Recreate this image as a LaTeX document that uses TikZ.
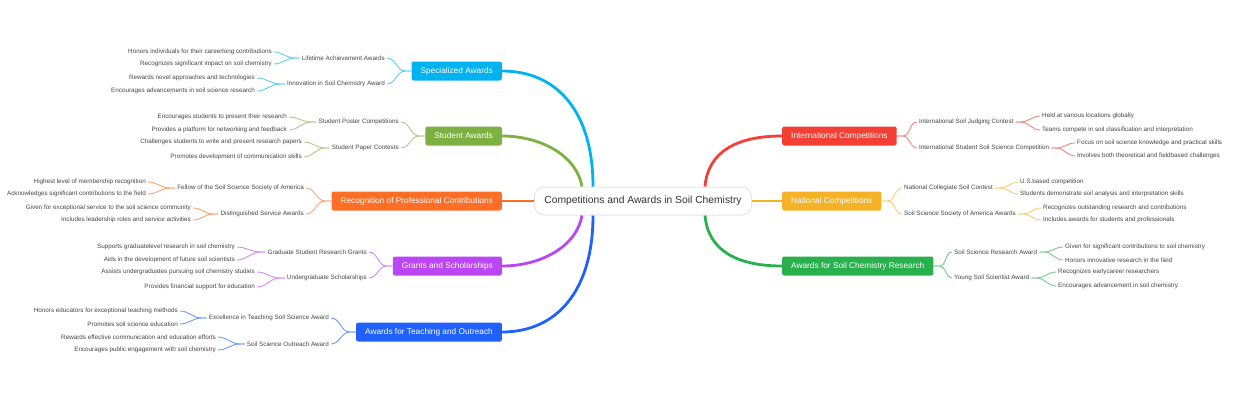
\documentclass[tikz,border=0pt]{standalone}
\usepackage{fontspec}
\setmainfont{Liberation Sans}
\usepackage{tikz}
\usetikzlibrary{calc}
\definecolor{cspec}{RGB}{0,178,240}
\definecolor{cstud}{RGB}{124,177,66}
\definecolor{cprof}{RGB}{255,110,38}
\definecolor{cgrant}{RGB}{186,70,245}
\definecolor{cteach}{RGB}{32,96,255}
\definecolor{cintl}{RGB}{244,64,52}
\definecolor{cnatl}{RGB}{245,178,38}
\definecolor{cresr}{RGB}{40,176,76}
\definecolor{txtgray}{RGB}{68,68,68}
\definecolor{roottxt}{RGB}{51,51,51}
\newcommand{\rootfont}{\fontsize{10.3}{12}\selectfont}
\newcommand{\branchfont}{\fontsize{8.3}{10}\selectfont}
\newcommand{\leaffont}{\fontsize{6.3}{7.5}\selectfont}
\tikzstyle{rootnode}=[rectangle,rounded corners=10pt,draw=black!10,line width=1pt,fill=white,text=roottxt,font=\rootfont,minimum height=28pt,inner xsep=10pt]
\tikzstyle{branchnode}=[rectangle,rounded corners=2pt,text=white,font=\branchfont,minimum height=19pt,inner xsep=9pt]
\tikzstyle{subnode}=[text=txtgray,font=\leaffont,inner sep=2pt]
\tikzstyle{leafnode}=[text=txtgray,font=\leaffont,inner sep=2pt]
\tikzstyle{mainlink}=[line width=2.8pt]
\tikzstyle{sublink}=[line width=0.9pt]

\begin{document}
\begin{tikzpicture}[x=1pt,y=-1pt]

  \useasboundingbox (0,0) rectangle (1240,400);

  % ROOT
  \node[rootnode] (root) at (643,201) {Competitions and Awards in Soil Chemistry};

  % BRANCHES
  \node[branchnode,fill=cspec,anchor=east] (spec) at (502,71) {Specialized Awards};
  \node[branchnode,fill=cstud,anchor=east] (stud) at (502,136) {Student Awards};
  \node[branchnode,fill=cprof,anchor=east] (prof) at (502,201) {Recognition of Professional Contributions};
  \node[branchnode,fill=cgrant,anchor=east] (grant) at (502,266) {Grants and Scholarships};
  \node[branchnode,fill=cteach,anchor=east] (teach) at (502,332) {Awards for Teaching and Outreach};
  \node[branchnode,fill=cintl,anchor=west] (intl) at (782,136) {International Competitions};
  \node[branchnode,fill=cnatl,anchor=west] (natl) at (782,201) {National Competitions};
  \node[branchnode,fill=cresr,anchor=west] (resr) at (782,266) {Awards for Soil Chemistry Research};

  \draw[mainlink,cspec] ($(root.north)+(-50,0)$) .. controls +(0,-75) and +(55,0) .. (spec.east);
  \draw[mainlink,cstud] ($(root.north)+(-61,0)$) .. controls +(-5,-30) and +(40,0) .. (stud.east);
  \draw[mainlink,cprof] (root.west) -- (prof.east);
  \draw[mainlink,cgrant] ($(root.south)+(-61,0)$) .. controls +(-5,30) and +(40,0) .. (grant.east);
  \draw[mainlink,cteach] ($(root.south)+(-50,0)$) .. controls +(0,75) and +(55,0) .. (teach.east);
  \draw[mainlink,cintl] ($(root.north)+(62,0)$) .. controls +(3,-35) and +(-45,0) .. (intl.west);
  \draw[mainlink,cnatl] (root.east) -- (natl.west);
  \draw[mainlink,cresr] ($(root.south)+(62,0)$) .. controls +(3,35) and +(-45,0) .. (resr.west);

  % SPECIALIZED AWARDS
  \node[subnode,anchor=east] (lifeaw) at (387,58) {Lifetime Achievement Awards};
  \node[subnode,anchor=east] (innovaw) at (387,84) {Innovation in Soil Chemistry Award};
  \node[leafnode,anchor=east] (lifeaw1) at (274,52) {Honors individuals for their careerlong contributions};
  \node[leafnode,anchor=east] (lifeaw2) at (274,64) {Recognizes significant impact on soil chemistry};
  \node[leafnode,anchor=east] (innovaw1) at (257,78) {Rewards novel approaches and technologies};
  \node[leafnode,anchor=east] (innovaw2) at (257,91) {Encourages advancements in soil science research};
  \draw[sublink,cspec!65] (spec.west) -- ++(-6,0) to[out=180,in=0] (lifeaw.east);
  \draw[sublink,cspec!65] (spec.west) -- ++(-6,0) to[out=180,in=0] (innovaw.east);
  \draw[sublink,cspec!65] (lifeaw.west) -- ++(-5,0) to[out=180,in=0] (lifeaw1.east);
  \draw[sublink,cspec!65] (lifeaw.west) -- ++(-5,0) to[out=180,in=0] (lifeaw2.east);
  \draw[sublink,cspec!65] (innovaw.west) -- ++(-5,0) to[out=180,in=0] (innovaw1.east);
  \draw[sublink,cspec!65] (innovaw.west) -- ++(-5,0) to[out=180,in=0] (innovaw2.east);

  % STUDENT AWARDS
  \node[subnode,anchor=east] (postcomp) at (401,122) {Student Poster Competitions};
  \node[subnode,anchor=east] (papercont) at (401,148) {Student Paper Contests};
  \node[leafnode,anchor=east] (postcomp1) at (289,117) {Encourages students to present their research};
  \node[leafnode,anchor=east] (postcomp2) at (289,130) {Provides a platform for networking and feedback};
  \node[leafnode,anchor=east] (papercont1) at (304,142) {Challenges students to write and present research papers};
  \node[leafnode,anchor=east] (papercont2) at (304,157) {Promotes development of communication skills};
  \draw[sublink,cstud!65] (stud.west) -- ++(-6,0) to[out=180,in=0] (postcomp.east);
  \draw[sublink,cstud!65] (stud.west) -- ++(-6,0) to[out=180,in=0] (papercont.east);
  \draw[sublink,cstud!65] (postcomp.west) -- ++(-5,0) to[out=180,in=0] (postcomp1.east);
  \draw[sublink,cstud!65] (postcomp.west) -- ++(-5,0) to[out=180,in=0] (postcomp2.east);
  \draw[sublink,cstud!65] (papercont.west) -- ++(-5,0) to[out=180,in=0] (papercont1.east);
  \draw[sublink,cstud!65] (papercont.west) -- ++(-5,0) to[out=180,in=0] (papercont2.east);

  % PROFESSIONAL CONTRIBUTIONS
  \node[subnode,anchor=east] (fellow) at (306,188) {Fellow of the Soil Science Society of America};
  \node[subnode,anchor=east] (distserv) at (306,214) {Distinguished Service Awards};
  \node[leafnode,anchor=east] (fellow1) at (148,182) {Highest level of membership recognition};
  \node[leafnode,anchor=east] (fellow2) at (148,194) {Acknowledges significant contributions to the field};
  \node[leafnode,anchor=east] (distserv1) at (193,208) {Given for exceptional service to the soil science community};
  \node[leafnode,anchor=east] (distserv2) at (193,220) {Includes leadership roles and service activities};
  \draw[sublink,cprof!65] (prof.west) -- ++(-6,0) to[out=180,in=0] (fellow.east);
  \draw[sublink,cprof!65] (prof.west) -- ++(-6,0) to[out=180,in=0] (distserv.east);
  \draw[sublink,cprof!65] (fellow.west) -- ++(-5,0) to[out=180,in=0] (fellow1.east);
  \draw[sublink,cprof!65] (fellow.west) -- ++(-5,0) to[out=180,in=0] (fellow2.east);
  \draw[sublink,cprof!65] (distserv.west) -- ++(-5,0) to[out=180,in=0] (distserv1.east);
  \draw[sublink,cprof!65] (distserv.west) -- ++(-5,0) to[out=180,in=0] (distserv2.east);

  % GRANTS AND SCHOLARSHIPS
  \node[subnode,anchor=east] (gradgrant) at (369,252) {Graduate Student Research Grants};
  \node[subnode,anchor=east] (ugschol) at (369,278) {Undergraduate Scholarships};
  \node[leafnode,anchor=east] (gradgrant1) at (237,247) {Supports graduatelevel research in soil chemistry};
  \node[leafnode,anchor=east] (gradgrant2) at (237,260) {Aids in the development of future soil scientists};
  \node[leafnode,anchor=east] (ugschol1) at (257,272) {Assists undergraduates pursuing soil chemistry studies};
  \node[leafnode,anchor=east] (ugschol2) at (257,287) {Provides financial support for education};
  \draw[sublink,cgrant!65] (grant.west) -- ++(-6,0) to[out=180,in=0] (gradgrant.east);
  \draw[sublink,cgrant!65] (grant.west) -- ++(-6,0) to[out=180,in=0] (ugschol.east);
  \draw[sublink,cgrant!65] (gradgrant.west) -- ++(-5,0) to[out=180,in=0] (gradgrant1.east);
  \draw[sublink,cgrant!65] (gradgrant.west) -- ++(-5,0) to[out=180,in=0] (gradgrant2.east);
  \draw[sublink,cgrant!65] (ugschol.west) -- ++(-5,0) to[out=180,in=0] (ugschol1.east);
  \draw[sublink,cgrant!65] (ugschol.west) -- ++(-5,0) to[out=180,in=0] (ugschol2.east);

  % TEACHING AND OUTREACH
  \node[subnode,anchor=east] (excteach) at (331,318) {Excellence in Teaching Soil Science Award};
  \node[subnode,anchor=east] (outreach) at (331,344) {Soil Science Outreach Award};
  \node[leafnode,anchor=east] (excteach1) at (180,311) {Honors educators for exceptional teaching methods};
  \node[leafnode,anchor=east] (excteach2) at (180,324) {Promotes soil science education};
  \node[leafnode,anchor=east] (outreach1) at (218,337) {Rewards effective communication and education efforts};
  \node[leafnode,anchor=east] (outreach2) at (218,350) {Encourages public engagement with soil chemistry};
  \draw[sublink,cteach!65] (teach.west) -- ++(-6,0) to[out=180,in=0] (excteach.east);
  \draw[sublink,cteach!65] (teach.west) -- ++(-6,0) to[out=180,in=0] (outreach.east);
  \draw[sublink,cteach!65] (excteach.west) -- ++(-5,0) to[out=180,in=0] (excteach1.east);
  \draw[sublink,cteach!65] (excteach.west) -- ++(-5,0) to[out=180,in=0] (excteach2.east);
  \draw[sublink,cteach!65] (outreach.west) -- ++(-5,0) to[out=180,in=0] (outreach1.east);
  \draw[sublink,cteach!65] (outreach.west) -- ++(-5,0) to[out=180,in=0] (outreach2.east);

  % INTERNATIONAL COMPETITIONS
  \node[subnode,anchor=west] (judging) at (917,122) {International Soil Judging Contest};
  \node[subnode,anchor=west] (stucomp) at (917,148) {International Student Soil Science Competition};
  \node[leafnode,anchor=west] (judging1) at (1040,116) {Held at various locations globally};
  \node[leafnode,anchor=west] (judging2) at (1040,130) {Teams compete in soil classification and interpretation};
  \node[leafnode,anchor=west] (stucomp1) at (1075,143) {Focus on soil science knowledge and practical skills};
  \node[leafnode,anchor=west] (stucomp2) at (1075,156) {Involves both theoretical and fieldbased challenges};
  \draw[sublink,cintl!65] (intl.east) -- ++(6,0) to[out=0,in=180] (judging.west);
  \draw[sublink,cintl!65] (intl.east) -- ++(6,0) to[out=0,in=180] (stucomp.west);
  \draw[sublink,cintl!65] (judging.east) -- ++(5,0) to[out=0,in=180] (judging1.west);
  \draw[sublink,cintl!65] (judging.east) -- ++(5,0) to[out=0,in=180] (judging2.west);
  \draw[sublink,cintl!65] (stucomp.east) -- ++(5,0) to[out=0,in=180] (stucomp1.west);
  \draw[sublink,cintl!65] (stucomp.east) -- ++(5,0) to[out=0,in=180] (stucomp2.west);

  % NATIONAL COMPETITIONS
  \node[subnode,anchor=west] (collegiate) at (902,188) {National Collegiate Soil Contest};
  \node[subnode,anchor=west] (sssaaw) at (902,214) {Soil Science Society of America Awards};
  \node[leafnode,anchor=west] (collegiate1) at (1018,182) {U.S.based competition};
  \node[leafnode,anchor=west] (collegiate2) at (1018,194) {Students demonstrate soil analysis and interpretation skills};
  \node[leafnode,anchor=west] (sssaaw1) at (1041,208) {Recognizes outstanding research and contributions};
  \node[leafnode,anchor=west] (sssaaw2) at (1041,220) {Includes awards for students and professionals};
  \draw[sublink,cnatl!65] (natl.east) -- ++(6,0) to[out=0,in=180] (collegiate.west);
  \draw[sublink,cnatl!65] (natl.east) -- ++(6,0) to[out=0,in=180] (sssaaw.west);
  \draw[sublink,cnatl!65] (collegiate.east) -- ++(5,0) to[out=0,in=180] (collegiate1.west);
  \draw[sublink,cnatl!65] (collegiate.east) -- ++(5,0) to[out=0,in=180] (collegiate2.west);
  \draw[sublink,cnatl!65] (sssaaw.east) -- ++(5,0) to[out=0,in=180] (sssaaw1.west);
  \draw[sublink,cnatl!65] (sssaaw.east) -- ++(5,0) to[out=0,in=180] (sssaaw2.west);

  % SOIL CHEMISTRY RESEARCH
  \node[subnode,anchor=west] (resaward) at (952,252) {Soil Science Research Award};
  \node[subnode,anchor=west] (youngaw) at (952,278) {Young Soil Scientist Award};
  \node[leafnode,anchor=west] (resaward1) at (1063,247) {Given for significant contributions to soil chemistry};
  \node[leafnode,anchor=west] (resaward2) at (1063,260) {Honors innovative research in the field};
  \node[leafnode,anchor=west] (youngaw1) at (1056,272) {Recognizes earlycareer researchers};
  \node[leafnode,anchor=west] (youngaw2) at (1056,286) {Encourages advancement in soil chemistry};
  \draw[sublink,cresr!65] (resr.east) -- ++(6,0) to[out=0,in=180] (resaward.west);
  \draw[sublink,cresr!65] (resr.east) -- ++(6,0) to[out=0,in=180] (youngaw.west);
  \draw[sublink,cresr!65] (resaward.east) -- ++(5,0) to[out=0,in=180] (resaward1.west);
  \draw[sublink,cresr!65] (resaward.east) -- ++(5,0) to[out=0,in=180] (resaward2.west);
  \draw[sublink,cresr!65] (youngaw.east) -- ++(5,0) to[out=0,in=180] (youngaw1.west);
  \draw[sublink,cresr!65] (youngaw.east) -- ++(5,0) to[out=0,in=180] (youngaw2.west);

\end{tikzpicture}
\end{document}
